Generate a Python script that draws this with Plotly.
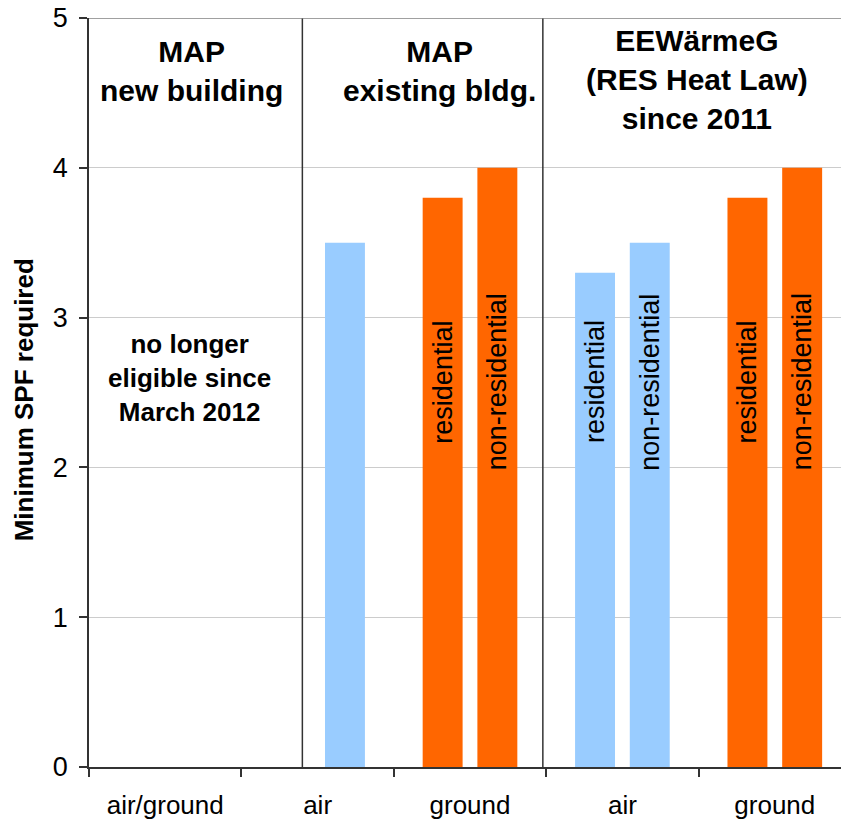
import plotly.graph_objects as go

# ---- data ----
categories = ["air/ground", "air", "ground", "air", "ground"]
residential = [None, None, 3.8, 3.3, 3.8]
non_residential = [None, 3.5, 4.0, 3.5, 4.0]
bar_colors = ["#99CCFF", "#99CCFF", "#FF6600", "#99CCFF", "#FF6600"]
series_labels = ["residential", "non-residential"]
group_titles = ["<b>MAP<br>new building</b>", "<b>MAP<br>existing bldg.</b>",
                "<b>EEWärmeG<br>(RES Heat Law)<br>since 2011</b>"]
note_text = "<b>no longer<br>eligible since<br>March 2012</b>"
y_title = "<b>Minimum SPF required</b>"

x = list(range(len(categories)))
FONT = "Liberation Sans, Arial, sans-serif"
bargap = 0.282
bargroupgap = 0.27

fig = go.Figure()
fig.add_trace(go.Bar(x=x, y=residential, name=series_labels[0],
                     marker=dict(color=bar_colors, line=dict(width=0))))
fig.add_trace(go.Bar(x=x, y=non_residential, name=series_labels[1],
                     marker=dict(color=bar_colors, line=dict(width=0))))

slot = (1 - bargap) / 2
annotations = []
# rotated labels inside bars
for i in x:
    for k, vals in enumerate([residential, non_residential]):
        if vals[i] is None:
            continue
        if i == 1:
            continue  # the MAP existing bldg. air bar has no label
        off = (k - 0.5) * slot
        annotations.append(dict(x=i + off, y=2.57, xref="x", yref="y",
                                text=series_labels[k], textangle=-90,
                                showarrow=False, xanchor="center", yanchor="middle",
                                font=dict(family=FONT, size=27, color="black")))

# group titles
for xt, yt, t in zip([0.17, 1.80, 3.49], [4.90, 4.90, 4.97], group_titles):
    annotations.append(dict(x=xt, y=yt, xref="x", yref="y", text=t,
                            showarrow=False, xanchor="center", yanchor="top",
                            font=dict(family=FONT, size=30, color="black")))

annotations.append(dict(x=0.16, y=2.6, xref="x", yref="y", text=note_text,
                        showarrow=False, xanchor="center", yanchor="middle",
                        font=dict(family=FONT, size=26, color="black")))

annotations.append(dict(x=-0.086, y=0.49, xref="paper", yref="paper", text=y_title,
                        textangle=-90, showarrow=False, xanchor="center", yanchor="middle",
                        font=dict(family=FONT, size=26, color="black")))

shapes = []
for sx in [0.90, 2.478]:
    shapes.append(dict(type="line", xref="x", yref="y", x0=sx, x1=sx, y0=0, y1=5,
                       line=dict(color="#333333", width=1.5)))
shapes.append(dict(type="line", xref="paper", yref="y", x0=0, x1=1, y0=5, y1=5,
                   line=dict(color="#808080", width=1.5)))

fig.update_layout(
    width=841, height=821,
    margin=dict(l=89, r=0, t=18, b=54, pad=0),
    paper_bgcolor="white", plot_bgcolor="white",
    barmode="group", bargap=bargap, bargroupgap=bargroupgap,
    showlegend=False,
    annotations=annotations, shapes=shapes,
    font=dict(family=FONT, color="black"),
)
fig.update_xaxes(
    range=[-0.5, -0.5 + 752 / 152.4],
    tickmode="array", tickvals=x, ticktext=categories, ticks="",
    tickfont=dict(family=FONT, size=26, color="black"),
    showline=True, linecolor="#333333", linewidth=1.5,
    showgrid=False, zeroline=False,
    minor=dict(tickmode="array", tickvals=[-0.5, 0.5, 1.5, 2.5, 3.5, 4.5],
               ticks="outside", ticklen=8, tickcolor="#333333", tickwidth=1.5,
               showgrid=False),
    ticklabelstandoff=14,
)
fig.update_yaxes(
    range=[0, 5], tickvals=[0, 1, 2, 3, 4, 5],
    ticks="outside", ticklen=8, tickcolor="#333333", tickwidth=1.5,
    tickfont=dict(family=FONT, size=27, color="black"),
    showline=True, linecolor="#333333", linewidth=1.5,
    showgrid=True, gridcolor="#CCCCCC", gridwidth=1, zeroline=False,
    ticklabelstandoff=6,
)

fig.write_html("out.html", config={"displayModeBar": False},
               post_script="document.body.style.margin='0px';")
